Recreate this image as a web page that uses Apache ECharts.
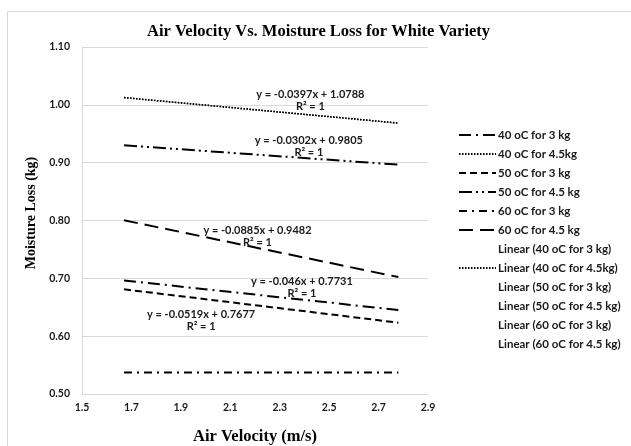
<!DOCTYPE html>
<html>
<head>
<meta charset="utf-8">
<script src="https://cdn.jsdelivr.net/npm/echarts@6/dist/echarts.min.js"></script>
<style>
  html, body { margin: 0; padding: 0; background: #fff; }
  #chart { width: 631px; height: 446px; }
</style>
</head>
<body>
<div id="chart"></div>
<script>
// Air velocity (m/s) at which each drying run was measured
const velocity = [1.67, 2.22, 2.78];

// Moisture loss (kg) per drying condition
const loss40_3kg = [0.6963, 0.6710, 0.6452];
const loss40_45kg = [1.0125, 0.9907, 0.9684];
const loss50_3kg = [0.6810, 0.6525, 0.6234];
const loss50_45kg = [0.9301, 0.9135, 0.8965];
const loss60_3kg = [0.5372, 0.5372, 0.5372];
const loss60_45kg = [0.8004, 0.7517, 0.7022];

const seriesNames = [
  '40 oC for 3 kg', '40 oC for 4.5kg', '50 oC for 3 kg',
  '50 oC for 4.5 kg', '60 oC for 3 kg', '60 oC for 4.5 kg'
];

// Trendline equations and where their text sits (data coordinates)
const equations = [
  'y = -0.046x + 0.7731', 'y = -0.0397x + 1.0788', 'y = -0.0519x + 0.7677',
  'y = -0.0302x + 0.9805', 'y = 0.5372', 'y = -0.0885x + 0.9482'
];
const rSquared = ['R² = 1', 'R² = 1', 'R² = 1', 'R² = 1', 'R² = 0', 'R² = 1'];
const equationAt = [
  [2.390, 0.6845], [2.424, 1.0069], [1.982, 0.6267],
  [2.418, 0.9284], [2.920, 0.5267], [2.210, 0.7724]
];

// Tick settings
const xTicks = { min: 1.5, max: 2.9, step: 0.2 };
const yTicks = { min: 0.5, max: 1.1, step: 0.1 };

const lossData = [loss40_3kg, loss40_45kg, loss50_3kg, loss50_45kg, loss60_3kg, loss60_45kg];

// Line dash patterns: long dash-dot, round dot, dash, long dash-dot-dot, dash-dot, long dash
const dashes = [
  [12, 5, 2, 5],
  [1.5, 1.5],
  [7, 4],
  [13, 4, 2, 4, 2, 4],
  [8, 5, 2, 5],
  [14, 7]
];
const widths = [2, 1.5, 2, 2, 2, 2];

const pairs = arr => arr.map((v, i) => [velocity[i], v]);

const labelFont = 'Lato, "Open Sans", sans-serif';
const serifFont = '"Liberation Serif", "Times New Roman", serif';

const series = [];
seriesNames.forEach((name, i) => {
  series.push({
    name: name,
    type: 'line',
    data: pairs(lossData[i]),
    symbol: 'none',
    itemStyle: { color: 'rgba(0,0,0,0)' },
    lineStyle: { color: '#000', width: widths[i], type: dashes[i], cap: 'butt' },
    z: 3
  });
});
seriesNames.forEach((name, i) => {
  const visible = i === 1; // the 4.5 kg at 40 oC trendline is drawn dotted
  series.push({
    name: 'Linear (' + name + ')',
    type: 'line',
    data: pairs(lossData[i]),
    symbol: 'none',
    itemStyle: { color: 'rgba(0,0,0,0)' },
    lineStyle: {
      color: '#000',
      width: visible ? 1.5 : 0,
      opacity: visible ? 1 : 0,
      type: visible ? dashes[1] : 'solid'
    },
    markPoint: {
      symbol: 'circle',
      symbolSize: 0,
      silent: true,
      data: [{ coord: equationAt[i], value: 0 }],
      label: {
        show: true,
        position: 'inside',
        formatter: equations[i] + '\n' + rSquared[i],
        fontFamily: labelFont,
        fontWeight: 'bold',
        fontSize: 11,
        lineHeight: 12,
        color: '#1a1a1a',
        align: 'center'
      }
    },
    z: 4
  });
});

const chart = echarts.init(document.getElementById('chart'), null, { renderer: 'canvas' });
chart.setOption({
  animation: false,
  backgroundColor: '#fff',
  title: {
    text: 'Air Velocity Vs. Moisture Loss for White Variety',
    left: 147,
    top: 23,
    padding: 0,
    textStyle: {
      fontFamily: serifFont,
      fontWeight: 'bold',
      fontSize: 16.5,
      color: '#000'
    }
  },
  graphic: [{
    type: 'rect',
    shape: { x: 7.5, y: 11.5, width: 700, height: 500 },
    style: { fill: 'none', stroke: '#d9d9d9', lineWidth: 1 },
    silent: true,
    z: -1
  }],
  legend: {
    orient: 'vertical',
    left: 458,
    top: 128,
    padding: 0,
    itemWidth: 37,
    itemHeight: 14,
    itemGap: 5,
    selectedMode: false,
    data: series.map(s => s.name),
    textStyle: {
      fontFamily: labelFont,
      fontWeight: 'bold',
      fontSize: 11.5,
      lineHeight: 14,
      color: '#1a1a1a',
      padding: [0, 0, 0, -3]
    }
  },
  grid: {
    left: 82, right: 203, top: 47, bottom: 52,
    containLabel: false,
    outerBoundsMode: 'none'
  },
  xAxis: {
    type: 'value',
    min: xTicks.min,
    max: xTicks.max,
    interval: xTicks.step,
    name: 'Air Velocity (m/s)',
    nameLocation: 'middle',
    nameGap: 34,
    nameTextStyle: {
      fontFamily: serifFont,
      fontWeight: 'bold',
      fontSize: 16.5,
      color: '#000'
    },
    axisLine: { show: true, lineStyle: { color: '#d9d9d9', width: 1 } },
    axisTick: { show: false },
    splitLine: { show: false },
    axisLabel: {
      margin: 8,
      formatter: v => v.toFixed(1),
      fontFamily: labelFont,
      fontWeight: 'bold',
      fontSize: 10.5,
      color: '#1a1a1a'
    }
  },
  yAxis: {
    type: 'value',
    min: yTicks.min,
    max: yTicks.max,
    interval: yTicks.step,
    name: 'Moisture Loss (kg)',
    nameLocation: 'middle',
    nameGap: 33,
    nameTextStyle: {
      fontFamily: serifFont,
      fontWeight: 'bold',
      fontSize: 14,
      color: '#000',
      padding: [0, 0, 0, 15]
    },
    axisLine: { show: true, lineStyle: { color: '#d9d9d9', width: 1 } },
    axisTick: { show: false },
    splitLine: { show: true, lineStyle: { color: '#d9d9d9', width: 1 } },
    axisLabel: {
      margin: 12,
      formatter: v => v.toFixed(2),
      fontFamily: labelFont,
      fontWeight: 'bold',
      fontSize: 10.5,
      color: '#1a1a1a'
    }
  },
  series: series
});
</script>
</body>
</html>
